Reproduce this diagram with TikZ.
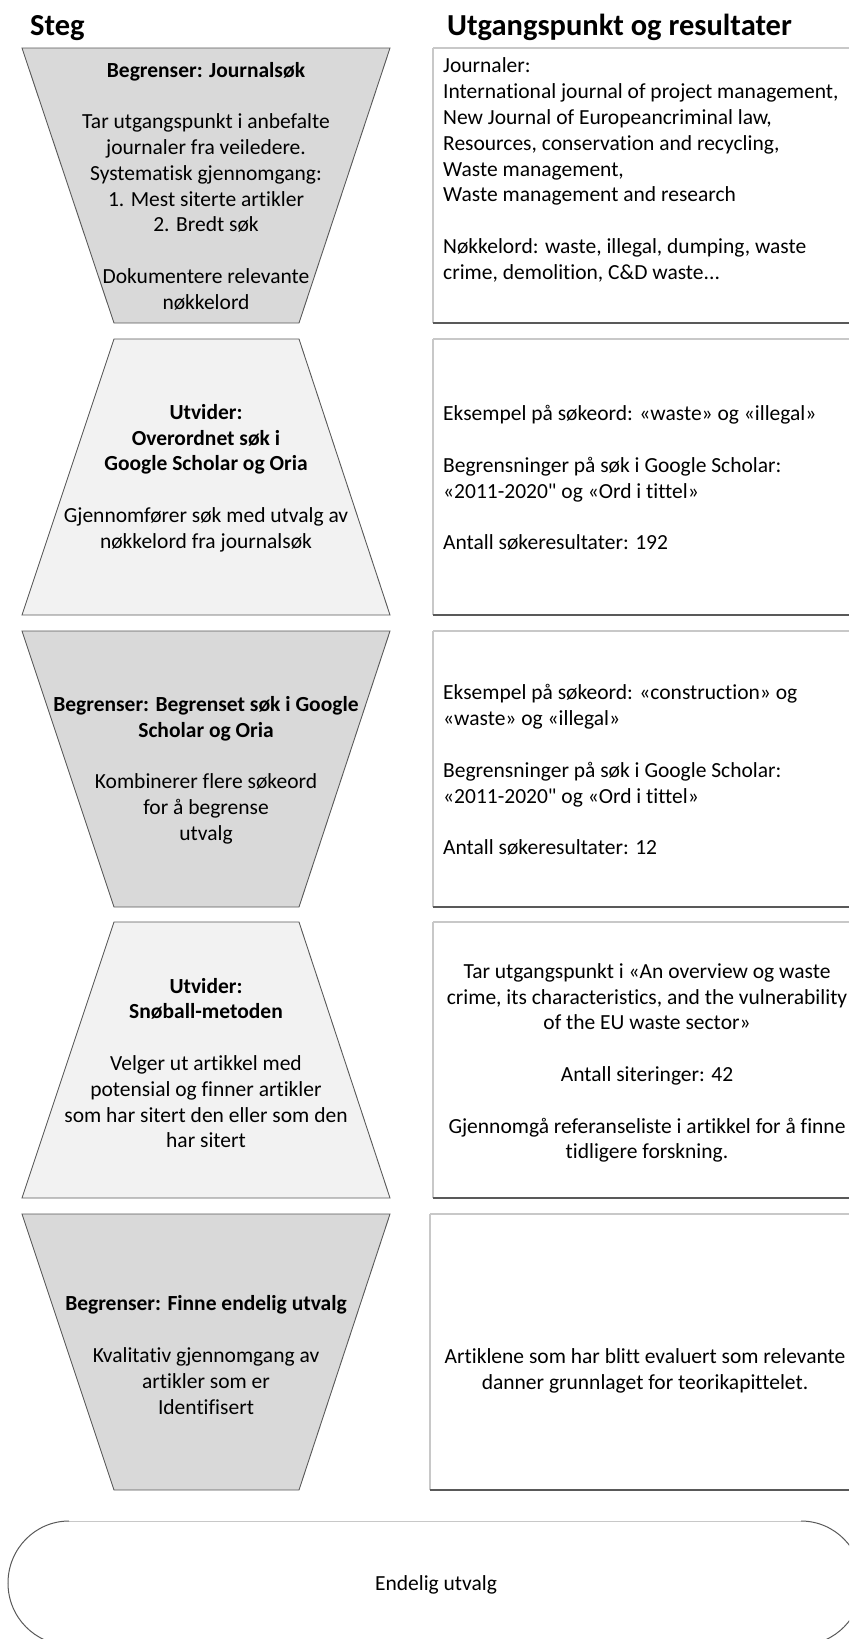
\documentclass[tikz,border=0pt]{standalone}
\usepackage{fontspec}
\setmainfont{Carlito}[Ligatures={TeXOff,NoCommon}]
\definecolor{darkfill}{HTML}{D9D9D9}
\definecolor{lightfill}{HTML}{F2F2F2}
\definecolor{edge}{HTML}{595959}
\definecolor{softedge}{HTML}{C8C8C8}
\begin{document}
\begin{tikzpicture}[x=1pt,y=-1pt,
  txt/.style={inner sep=0pt,font=\fontsize{21.5pt}{25.8pt}\selectfont,align=center},
  ltxt/.style={txt,align=left},
  hdr/.style={inner sep=0pt,font=\fontsize{30.5pt}{34pt}\selectfont\bfseries},
  softline/.style={draw=softedge, line width=1.5pt},
  darkline/.style={draw=edge, line width=1.5pt},
]
\useasboundingbox (0,0) rectangle (849,1639);

% funnel steps
\foreach \ytop/\ybot in {48/323, 631/907, 1214/1490}{
  \filldraw[fill=darkfill, draw=edge, line width=0.9pt] (22,\ytop) -- (390,\ytop) -- (299,\ybot) -- (114,\ybot) -- cycle;
}
\foreach \ytop/\ybot in {339/615, 922/1198}{
  \filldraw[fill=lightfill, draw=edge, line width=0.9pt] (114,\ytop) -- (299,\ytop) -- (390,\ybot) -- (22,\ybot) -- cycle;
}
% result boxes (open towards the right page edge)
\foreach \ytop/\ybot/\xl in {48/323/433, 339/615/433, 631/907/433, 922/1198/433, 1214/1490/430}{
  \path[softline] (\xl,\ybot) -- (\xl,\ytop);
  \path[softline] (\xl,\ytop) -- (849,\ytop);
  \path[darkline] (\xl,\ybot) -- (849,\ybot);
}

% headers
\node[hdr, anchor=base west] (steg) at (30,35) {Steg};
\node[hdr, anchor=base west] (utg) at (447,35) {Utgangspunkt og resultater};

% row 1
\node[txt] (s1) at (206,186) {\textbf{Begrenser: Journalsøk}\\[25.8pt]
  Tar utgangspunkt i anbefalte\\ journaler fra veiledere.\\ Systematisk gjennomgang:\\
  1. Mest siterte artikler\\ 2. Bredt søk\\[25.8pt] Dokumentere relevante\\ nøkkelord};
\node[ltxt, anchor=west] (r1) at (443,170) {Journaler:\\
  International journal of project management,\\
  New Journal of Europeancriminal law,\\
  Resources, conservation and recycling,\\
  Waste management,\\
  Waste management and research\\[25.8pt]
  Nøkkelord: waste, illegal, dumping, waste\\
  crime, demolition, C\&D waste...};

% row 2
\node[txt] (s2) at (206,478) {\textbf{Utvider:}\\ \textbf{Overordnet søk i}\\ \textbf{Google Scholar og Oria}\\[25.8pt]
  Gjennomfører søk med utvalg av\\ nøkkelord fra journalsøk};
\node[ltxt, anchor=west] (r2) at (443,478) {Eksempel på søkeord: «waste» og «illegal»\\[25.8pt]
  Begrensninger på søk i Google Scholar:\\ «2011-2020" og «Ord i tittel»\\[25.8pt]
  Antall søkeresultater: 192};

% row 3
\node[txt] (s3) at (206,770) {\textbf{Begrenser: Begrenset søk i Google}\\ \textbf{Scholar og Oria}\\[25.8pt]
  Kombinerer flere søkeord\\ for å begrense\\ utvalg};
\node[ltxt, anchor=west] (r3) at (443,770) {Eksempel på søkeord: «construction» og\\ «waste» og «illegal»\\[25.8pt]
  Begrensninger på søk i Google Scholar:\\ «2011-2020" og «Ord i tittel»\\[25.8pt]
  Antall søkeresultater: 12};

% row 4
\node[txt] (s4) at (206,1063) {\textbf{Utvider:}\\ \textbf{Snøball-metoden}\\[25.8pt]
  Velger ut artikkel med\\ potensial og finner artikler\\ som har sitert den eller som den\\ har sitert};
\node[txt] (r4) at (647,1063) {Tar utgangspunkt i «An overview og waste\\
  crime, its characteristics, and the vulnerability\\ of the EU waste sector»\\[25.8pt]
  Antall siteringer: 42\\[25.8pt]
  Gjennomgå referanseliste i artikkel for å finne\\ tidligere forskning.};

% row 5
\node[txt] (s5) at (206,1355) {\textbf{Begrenser: Finne endelig utvalg}\\[25.8pt]
  Kvalitativ gjennomgang av\\ artikler som er\\ Identifisert};
\node[txt] (r5) at (645,1371) {Artiklene som har blitt evaluert som relevante\\ danner grunnlaget for teorikapittelet.};

% final selection (runs past the page edges)
\begin{scope}
\clip (0,1500) rectangle (849,1639);
\draw[softedge, line width=1pt] (69,1521) -- (801,1521);
\draw[edge, line width=1pt] (69,1521) arc[start angle=90,end angle=270,x radius=61pt,y radius=62pt];
\draw[edge, line width=1pt] (801,1521) arc[start angle=90,end angle=-90,x radius=61pt,y radius=62pt];
\end{scope}
\node[txt] (fin) at (436,1585) {Endelig utvalg};
\end{tikzpicture}
\end{document}
